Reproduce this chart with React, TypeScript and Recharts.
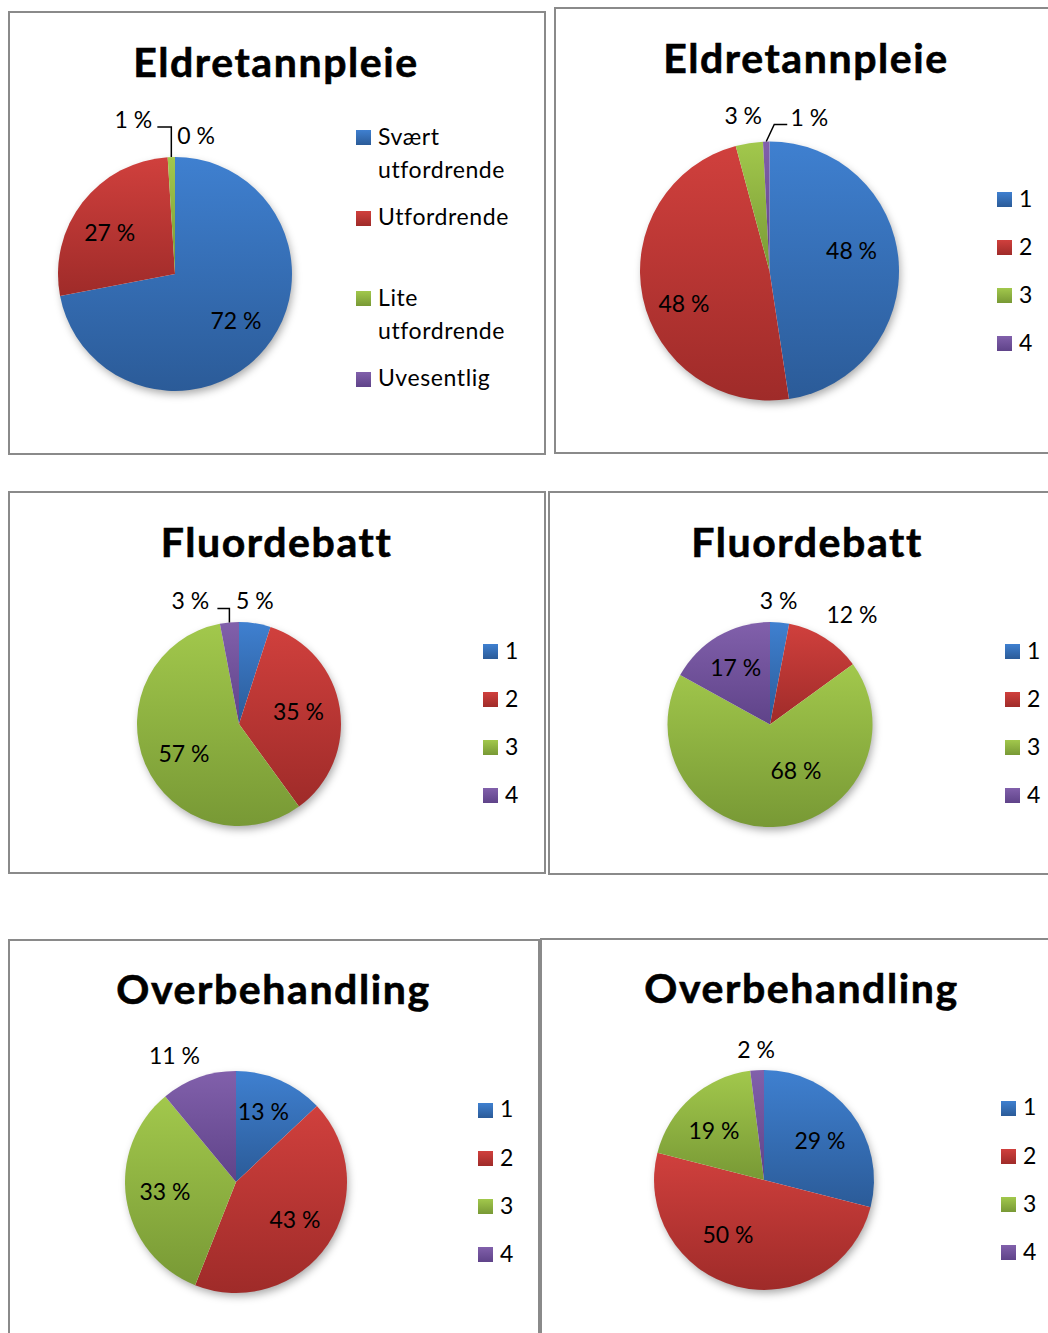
import React from "react"
import { PieChart, Pie, Cell, Legend } from "recharts"

const eldreNames = ["Svært utfordrende", "Utfordrende", "Lite utfordrende", "Uvesentlig"]
const groupNames = ["1", "2", "3", "4"]

// share per group (labels show the rounded percent)
const eldre1 = [72, 27, 1, 0]
const eldre2 = [47.6, 48.2, 3.4, 0.8]
const fluor1 = [5, 35, 57, 3]
const fluor2 = [3, 12, 68, 17]
const over1 = [13, 43, 33, 11]
const over2 = [29, 50, 19, 2]

const topColors = ["#3f80d0", "#d0403d", "#a2c84c", "#8160ab"]
const bottomColors = ["#2b5b98", "#9f2b29", "#789935", "#5f4389"]

const FONT = "Lato, 'Open Sans', sans-serif"

type Spot = { at: "in" | "edge"; dx: number; dy: number; line?: number[][] }

type PanelDef = {
  id: string
  title: string
  names: string[]
  values: number[]
  box: { left: number; top: number; width: number; height: number }
  titleX: number
  titleY: number
  pie: { cx: number; cy: number; r: number }
  legend: { x: number; y: number; step: number; textWidth?: number }
  spots: Spot[]
}

const panels: PanelDef[] = [
  {
    id: "e1",
    title: "Eldretannpleie",
    names: eldreNames,
    values: eldre1,
    box: { left: 8, top: 11, width: 538, height: 444 },
    titleX: 276,
    titleY: 77,
    pie: { cx: 175, cy: 274, r: 117 },
    legend: { x: 356, y: 137.5, step: 80.5, textWidth: 150 },
    spots: [
      { at: "in", dx: 5, dy: 0 },
      { at: "in", dx: -8, dy: 3 },
      { at: "edge", dx: -38, dy: -37, line: [[0, 0], [0, -30], [-14, -30]] },
      { at: "edge", dx: 21, dy: -21 },
    ],
  },
  {
    id: "e2",
    title: "Eldretannpleie",
    names: groupNames,
    values: eldre2,
    box: { left: 554, top: 7, width: 510, height: 447 },
    titleX: 806,
    titleY: 73,
    pie: { cx: 769.5, cy: 271, r: 129.5 },
    legend: { x: 997, y: 199.5, step: 48 },
    spots: [
      { at: "in", dx: 2, dy: -14 },
      { at: "in", dx: -7, dy: 16 },
      { at: "edge", dx: -6, dy: -27 },
      { at: "edge", dx: 43, dy: -24, line: [[0, 0], [8, -17], [21, -17]] },
    ],
  },
  {
    id: "f1",
    title: "Fluordebatt",
    names: groupNames,
    values: fluor1,
    box: { left: 8, top: 491, width: 538, height: 383 },
    titleX: 276.5,
    titleY: 557,
    pie: { cx: 239, cy: 724, r: 102 },
    legend: { x: 483, y: 651.5, step: 48 },
    spots: [
      { at: "edge", dx: 0, dy: -23 },
      { at: "in", dx: -3, dy: -2 },
      { at: "in", dx: 3, dy: 5 },
      { at: "edge", dx: -39, dy: -22, line: [[0, 0], [0, -14], [-12, -14]] },
    ],
  },
  {
    id: "f2",
    title: "Fluordebatt",
    names: groupNames,
    values: fluor2,
    box: { left: 548, top: 491, width: 510, height: 384 },
    titleX: 807,
    titleY: 557,
    pie: { cx: 770, cy: 724.5, r: 102.5 },
    legend: { x: 1005, y: 651.5, step: 48 },
    spots: [
      { at: "edge", dx: -1, dy: -22 },
      { at: "edge", dx: 27, dy: -23 },
      { at: "in", dx: 22, dy: -17 },
      { at: "in", dx: -2, dy: -2 },
    ],
  },
  {
    id: "o1",
    title: "Overbehandling",
    names: groupNames,
    values: over1,
    box: { left: 8, top: 939, width: 532, height: 420 },
    titleX: 273.5,
    titleY: 1004,
    pie: { cx: 236, cy: 1182, r: 111 },
    legend: { x: 478, y: 1110, step: 48.3 },
    spots: [
      { at: "in", dx: 0, dy: -7 },
      { at: "in", dx: 2, dy: -1 },
      { at: "in", dx: -3, dy: -1 },
      { at: "edge", dx: -24, dy: -22 },
    ],
  },
  {
    id: "o2",
    title: "Overbehandling",
    names: groupNames,
    values: over2,
    box: { left: 540, top: 938, width: 520, height: 420 },
    titleX: 801.5,
    titleY: 1003,
    pie: { cx: 764, cy: 1180, r: 110 },
    legend: { x: 1001, y: 1108, step: 48.2 },
    spots: [
      { at: "in", dx: 2, dy: 3 },
      { at: "in", dx: -19, dy: -11 },
      { at: "in", dx: -5, dy: 2 },
      { at: "edge", dx: -1, dy: -21 },
    ],
  },
]

const makeLabel = (spots: Spot[]) => (props: any) => {
  const { cx, cy, midAngle, outerRadius, index, percent } = props
  const s = spots[index]
  if (!s) return null
  const rad = s.at === "in" ? outerRadius * 0.62 : outerRadius
  const a = (-midAngle * Math.PI) / 180
  const bx = cx + rad * Math.cos(a)
  const by = cy + rad * Math.sin(a)
  return (
    <g key={`lbl-${index}`}>
      {s.line && (
        <polyline
          points={s.line.map(([px, py]) => `${bx + px},${by + py}`).join(" ")}
          fill="none"
          stroke="#000"
          strokeWidth={1.5}
        />
      )}
      <text x={bx + s.dx} y={by + s.dy + 8.3} textAnchor="middle" fontSize={23} fontFamily={FONT} fill="#000">
        {Math.round((percent ?? 0) * 100)} %
      </text>
    </g>
  )
}

const Panel = ({ p }: { p: PanelDef }) => {
  const { box, legend } = p
  const data = p.values.map((v, i) => ({ name: p.names[i], value: v }))
  const cx = p.pie.cx - box.left
  const cy = p.pie.cy - box.top
  const textW = legend.textWidth ?? 60

  return (
    <div style={{ position: "absolute", left: box.left, top: box.top, width: box.width, height: box.height }}>
      <div
        style={{
          position: "absolute",
          left: 0,
          top: 0,
          width: box.width,
          height: box.height,
          border: "2px solid #8a8a8a",
          boxSizing: "border-box",
        }}
      />
      <div
        style={{
          position: "absolute",
          left: p.titleX - box.left - 300,
          width: 600,
          top: p.titleY - box.top - 36.4,
          textAlign: "center",
          fontFamily: FONT,
          fontSize: 41,
          lineHeight: "41px",
          fontWeight: 700,
          letterSpacing: 1.6,
          WebkitTextStroke: "0.6px #000",
          color: "#000",
        }}
      >
        {p.title}
      </div>
      <div style={{ position: "absolute", left: 0, top: 0 }}>
        <PieChart width={box.width} height={box.height} margin={{ top: 0, right: 0, bottom: 0, left: 0 }}>
          <defs>
            {topColors.map((c, i) => (
              <linearGradient key={i} id={`${p.id}-g${i}`} x1="0" y1="0" x2="0" y2="1">
                <stop offset="0%" stopColor={c} />
                <stop offset="100%" stopColor={bottomColors[i]} />
              </linearGradient>
            ))}
            <filter id={`${p.id}-shadow`} x="-20%" y="-20%" width="140%" height="140%">
              <feDropShadow dx="2" dy="4" stdDeviation="4" floodColor="#000" floodOpacity="0.35" />
            </filter>
          </defs>
          <Pie
            data={[{ name: "bg", value: 1 }]}
            dataKey="value"
            cx={cx}
            cy={cy}
            outerRadius={p.pie.r - 1}
            startAngle={90}
            endAngle={-270}
            stroke="none"
            legendType="none"
            label={false}
            isAnimationActive={false}
          >
            <Cell fill="#ffffff" filter={`url(#${p.id}-shadow)`} />
          </Pie>
          <Pie
            data={data}
            dataKey="value"
            nameKey="name"
            cx={cx}
            cy={cy}
            outerRadius={p.pie.r}
            startAngle={90}
            endAngle={-270}
            stroke="none"
            labelLine={false}
            label={makeLabel(p.spots)}
            isAnimationActive={false}
          >
            {data.map((_, i) => (
              <Cell key={i} fill={`url(#${p.id}-g${i})`} />
            ))}
          </Pie>
          <Legend
            layout="vertical"
            align="right"
            verticalAlign="top"
            wrapperStyle={{ left: legend.x - box.left, top: 0, width: textW + 30, height: 10 }}
            content={() => (
              <div style={{ position: "relative", fontFamily: FONT, fontSize: 23, letterSpacing: 0.6, color: "#000" }}>
                {p.names.map((n, i) => {
                  const c = legend.y - box.top + i * legend.step
                  return (
                    <div key={n} style={{ position: "absolute", left: 0, top: 0 }}>
                      <div
                        style={{
                          position: "absolute",
                          left: 0,
                          top: c - 7.5,
                          width: 15,
                          height: 15,
                          background: `linear-gradient(to bottom, ${topColors[i]}, ${bottomColors[i]})`,
                        }}
                      />
                      <div
                        style={{
                          position: "absolute",
                          left: 22,
                          top: c - 17.6,
                          width: textW,
                          lineHeight: "33px",
                          whiteSpace: "normal",
                        }}
                      >
                        {n}
                      </div>
                    </div>
                  )
                })}
              </div>
            )}
          />
        </PieChart>
      </div>
    </div>
  )
}

const App = () => (
  <div
    style={{
      position: "absolute",
      left: 0,
      top: 0,
      width: 1048,
      height: 1333,
      overflow: "hidden",
      background: "#fff",
    }}
  >
    {panels.map((p) => (
      <Panel key={p.id} p={p} />
    ))}
  </div>
)

export default App
